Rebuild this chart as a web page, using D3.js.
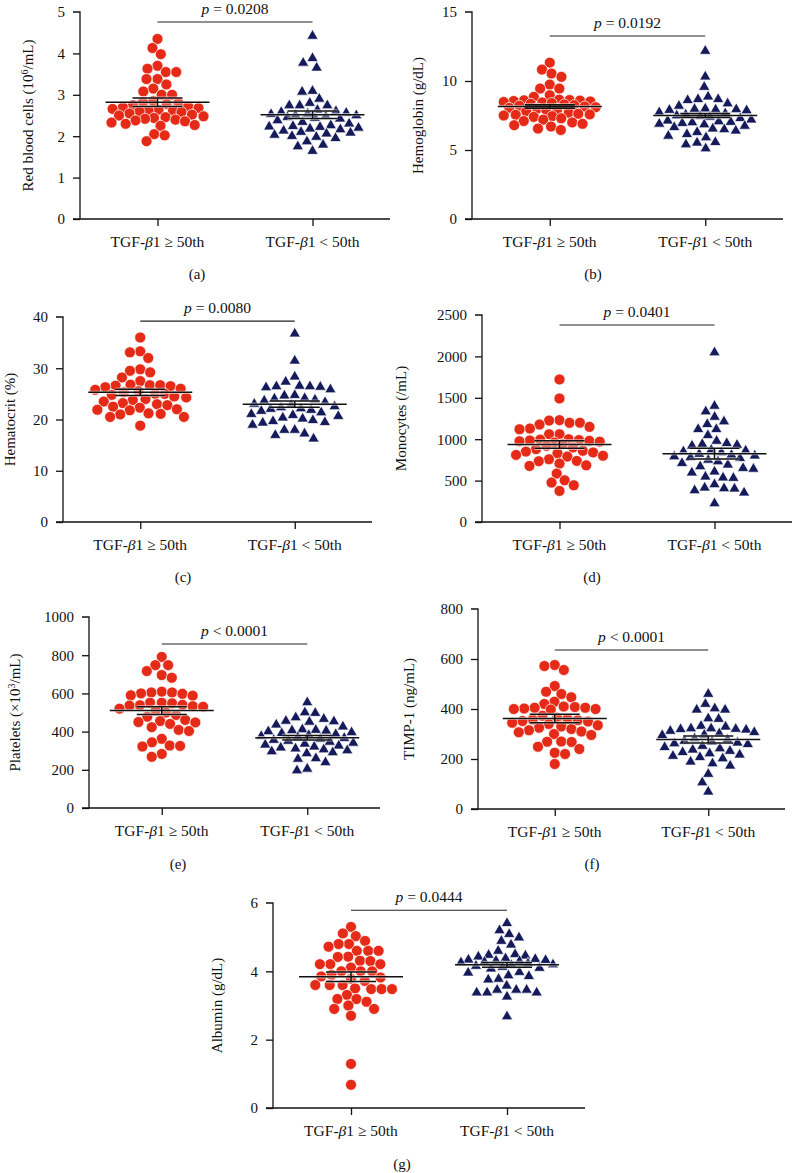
<!DOCTYPE html>
<html><head><meta charset="utf-8">
<script src="https://cdn.jsdelivr.net/npm/d3@7"></script>
<style>html,body{margin:0;padding:0;background:#fff}svg{display:block}</style>
</head><body>
<script>
// ---------- DATA ----------
const categories = ["TGF-β1 ≥ 50th", "TGF-β1 < 50th"];
const rbcHigh = [4.35,4.13,3.98,3.70,3.63,3.55,3.55,3.38,3.38,3.25,3.15,3.08,3.00,3.00,2.85,2.82,2.80,2.78,2.75,2.72,2.70,2.68,2.66,2.64,2.62,2.62,2.60,2.58,2.55,2.52,2.50,2.48,2.46,2.44,2.42,2.40,2.38,2.36,2.33,2.30,2.27,2.25,2.05,2.02,1.88];
const rbcLow = [4.44,3.90,3.79,3.67,3.11,3.09,2.92,2.82,2.76,2.76,2.76,2.65,2.62,2.60,2.58,2.56,2.55,2.53,2.52,2.50,2.48,2.46,2.44,2.40,2.36,2.32,2.28,2.26,2.25,2.24,2.22,2.20,2.18,2.15,2.12,2.10,2.08,2.05,2.02,2.00,1.97,1.89,1.81,1.77,1.66];
const hgbHigh = [11.33,10.83,10.54,10.30,9.74,9.45,9.45,8.97,8.85,8.65,8.62,8.60,8.58,8.55,8.52,8.48,8.45,8.40,8.35,8.30,8.25,8.20,8.15,8.10,8.05,8.00,7.95,7.90,7.80,7.70,7.62,7.58,7.55,7.50,7.45,7.40,7.30,7.20,7.10,7.00,6.90,6.80,6.70,6.55,6.45];
const hgbLow = [12.23,10.37,9.62,8.92,8.73,8.73,8.66,8.42,8.25,8.05,8.02,8.00,7.98,7.95,7.92,7.78,7.70,7.62,7.55,7.50,7.45,7.35,7.25,7.18,7.12,7.08,7.05,7.00,6.95,6.90,6.80,6.70,6.60,6.55,6.45,6.35,6.20,6.08,5.96,5.62,5.58,5.45,5.16];
const hctHigh = [36.0,33.3,33.1,32.0,29.8,29.5,29.2,28.2,27.5,26.8,26.7,26.7,26.6,26.5,26.3,26.0,25.8,25.5,25.3,25.0,25.0,24.8,24.5,24.3,24.0,23.8,23.5,23.2,23.0,22.8,22.5,22.3,22.0,21.9,21.8,21.2,21.1,21.0,20.5,20.5,18.8];
const hctLow = [36.9,31.6,28.5,27.5,26.7,26.6,26.6,26.5,26.4,26.0,24.9,24.8,24.3,24.2,24.0,23.8,23.5,23.2,23.0,22.7,22.5,22.3,22.2,22.0,21.8,21.5,21.2,21.0,20.8,20.5,20.3,20.0,19.8,19.6,19.5,19.1,18.1,18.1,17.4,17.1,16.4];
const monoHigh = [1722,1492,1230,1225,1198,1198,1177,1149,1129,1120,1060,1060,1000,995,990,985,980,975,970,960,940,920,900,880,860,850,840,830,810,800,790,758,738,734,706,685,677,585,504,476,444,375];
const monoLow = [2056,1411,1343,1278,1222,1190,1129,1129,1056,988,960,950,940,930,880,870,860,850,830,820,810,800,790,780,760,740,720,700,680,660,650,617,605,556,545,540,464,423,415,411,391,363,234];
const pltHigh = [791,748,748,717,696,682,609,605,605,600,598,590,588,551,551,548,540,538,536,533,530,520,510,500,487,478,461,455,450,448,440,423,409,403,362,344,327,325,322,283,268];
const pltLow = [557,504,501,478,470,460,457,455,440,430,415,412,410,408,405,400,395,390,385,380,375,370,365,360,355,350,345,340,335,330,325,320,315,310,305,300,295,290,264,261,243,209,200];
const timpHigh = [576,572,556,492,469,460,447,429,420,410,408,405,405,402,400,400,398,373,365,360,358,355,352,350,345,340,335,330,325,320,315,310,307,300,296,270,269,268,249,240,225,220,180];
const timpLow = [463,423,405,400,400,365,363,335,332,325,325,323,322,320,315,310,305,300,298,285,280,275,272,268,265,262,255,250,245,240,235,230,225,220,215,210,205,192,185,176,143,109,72];
const albHigh = [5.30,5.11,5.03,4.89,4.80,4.80,4.72,4.60,4.60,4.60,4.43,4.42,4.31,4.30,4.21,4.21,4.21,4.11,4.00,4.00,4.00,3.90,3.85,3.82,3.78,3.72,3.60,3.60,3.60,3.50,3.48,3.48,3.48,3.31,3.19,3.19,3.11,3.00,2.90,2.90,2.70,1.29,0.68];
const albLow = [5.43,5.22,5.11,5.01,4.91,4.80,4.62,4.52,4.50,4.48,4.45,4.40,4.38,4.36,4.35,4.33,4.32,4.30,4.28,4.25,4.22,4.20,4.18,4.15,4.12,4.10,4.00,3.98,3.90,3.88,3.80,3.78,3.60,3.48,3.48,3.48,3.40,3.40,3.40,3.28,2.70];
const meanHigh = [2.82, 8.15, 25.3, 935, 510, 362, 3.84];
const semHigh  = [0.10, 0.12, 0.6, 45, 20, 17, 0.14];
const meanLow  = [2.52, 7.50, 23.0, 825, 368, 278, 4.19];
const semLow   = [0.09, 0.15, 0.6, 65, 12, 14, 0.07];
const pTexts = ["= 0.0208", "= 0.0192", "= 0.0080", "= 0.0401", "< 0.0001", "< 0.0001", "= 0.0444"];
const yTickSets = [[0,1,2,3,4,5],[0,5,10,15],[0,10,20,30,40],[0,500,1000,1500,2000,2500],[0,200,400,600,800,1000],[0,200,400,600,800],[0,2,4,6]];
const yTitles = [["Red blood cells (10","6","/mL)"],["Hemoglobin (g/dL)"],["Hematocrit (%)"],["Monocytes (/mL)"],["Platelets (×10","3","/mL)"],["TIMP-1 (ng/mL)"],["Albumin (g/dL)"]];
const captions = ["(a)","(b)","(c)","(d)","(e)","(f)","(g)"];
const groupsHigh = [rbcHigh,hgbHigh,hctHigh,monoHigh,pltHigh,timpHigh,albHigh];
const groupsLow = [rbcLow,hgbLow,hctLow,monoLow,pltLow,timpLow,albLow];
const pLineAt = [4.76, 13.26, 39.2, 2379, 859, 636, 5.79];

// ---------- LAYOUT ----------
const layout = [
  {x0:80,  x1:390, yTop:12,  y0:219,  labX:28,  capX:197, capY:279},
  {x0:472, x1:783, yTop:12,  y0:219,  labX:418, capX:593, capY:279},
  {x0:63,  x1:372, yTop:317, y0:522,  labX:10,  capX:183, capY:582},
  {x0:482, x1:792, yTop:315, y0:522,  labX:401, capX:592, capY:582},
  {x0:89,  x1:380, yTop:617, y0:808,  labX:15,  capX:178, capY:869},
  {x0:478, x1:785, yTop:609, y0:809,  labX:409, capX:592, capY:869},
  {x0:273, x1:585, yTop:903, y0:1108, labX:217, capX:402, capY:1169}
];
const RED = "#e52b17", NAVY = "#141a5a";
const FONT = "'Liberation Serif','DejaVu Serif',serif";
const HALF = 46;   // max horizontal half-spread of a swarm

const svg = d3.select("body").append("svg").attr("width",792).attr("height",1173)
  .style("font-family",FONT);
svg.append("rect").attr("width",792).attr("height",1173).attr("fill","#fff");

function swarm(vals, y, cx, d) {
  const pts = vals.map(v => ({v, y: y(v)})).sort((a,b) => a.y - b.y);
  const placed = [];
  for (const p of pts) {
    const near = placed.filter(q => Math.abs(q.y - p.y) < d);
    const cands = [0];
    near.forEach(q => { const dx = Math.sqrt(d*d - (q.y-p.y)**2); cands.push(q.dx + dx, q.dx - dx); });
    const ok = cands.filter(c => Math.abs(c) <= HALF &&
      near.every(q => (q.dx-c)**2 + (q.y-p.y)**2 >= d*d - 1e-6))
      .sort((a,b) => Math.abs(a) - Math.abs(b) || a - b);
    if (ok.length) p.dx = ok[0];
    else {
      let best = 0, bestD = -1;
      for (let c = -HALF; c <= HALF; c += 0.5) {
        const md = d3.min(near, q => Math.hypot(q.dx - c, q.y - p.y));
        if (md > bestD + 1e-6 || (Math.abs(md - bestD) < 1e-6 && Math.abs(c) < Math.abs(best))) { bestD = md; best = c; }
      }
      p.dx = best;
    }
    placed.push(p);
  }
  return placed.map(p => ({v:p.v, y:p.y, x: cx + p.dx}));
}

function catLabel(sel, s) {
  const parts = s.split("β");
  sel.append("tspan").text(parts[0]);
  sel.append("tspan").attr("font-style","italic").text("β");
  sel.append("tspan").text(parts[1]);
}

layout.forEach((L, i) => {
  const g = svg.append("g");
  const ticks = yTickSets[i];
  const ymax = ticks[ticks.length-1];
  const y = d3.scaleLinear().domain([0, ymax]).range([L.y0, L.yTop]);
  const x = d3.scalePoint().domain(categories).range([L.x0, L.x1]).padding(0.5);

  const ya = g.append("g").attr("transform",`translate(${L.x0},0)`)
    .call(d3.axisLeft(y).tickValues(ticks).tickSize(7).tickPadding(8).tickFormat(d3.format("d")));
  ya.select(".domain").attr("d", `M-7,${L.yTop}H0V${L.y0}`).attr("stroke","#111").attr("stroke-width",1.3);
  ya.selectAll(".tick line").attr("stroke","#111").attr("stroke-width",1.3);
  ya.selectAll(".tick text").attr("font-size",15).attr("font-family",FONT).attr("fill","#111");
  ya.selectAll(".tick").filter(d => d === ymax).select("line").remove();

  const xa = g.append("g").attr("transform",`translate(0,${L.y0})`)
    .call(d3.axisBottom(x).tickSize(7).tickPadding(12).tickFormat(""));
  xa.select(".domain").attr("d", `M${L.x0 - 7},0H${L.x1}`).attr("stroke","#111").attr("stroke-width",1.3);
  xa.selectAll(".tick line").attr("stroke","#111").attr("stroke-width",1.3);
  categories.forEach(c => {
    const t = g.append("text").attr("x", x(c)).attr("y", L.y0 + 28)
      .attr("text-anchor","middle").attr("font-size",15.5).attr("fill","#111");
    catLabel(t, c);
  });

  const hi = swarm(groupsHigh[i], y, x(categories[0]), 10.4);
  g.append("g").selectAll("circle").data(hi).join("circle")
    .attr("cx", d => d.x).attr("cy", d => d.y).attr("r", 5.5)
    .attr("fill", RED).attr("stroke","#fff").attr("stroke-width",0.7);
  const lo = swarm(groupsLow[i], y, x(categories[1]), 10.4);
  const tri = d3.symbol().type(d3.symbolTriangle).size(55);
  g.append("g").selectAll("path").data(lo).join("path")
    .attr("d", tri).attr("transform", d => `translate(${d.x},${d.y + 0.8})`)
    .attr("fill", NAVY).attr("stroke","#fff").attr("stroke-width",0.7);

  [[meanHigh[i], semHigh[i], x(categories[0])], [meanLow[i], semLow[i], x(categories[1])]].forEach(([m, s, cx]) => {
    const path = `M${cx-52},${y(m)}H${cx+52}M${cx-25},${y(m+s)}H${cx+25}M${cx-25},${y(m-s)}H${cx+25}M${cx},${y(m+s)}V${y(m-s)}`;
    g.append("path").attr("d", path).attr("fill","none").attr("stroke","#fff").attr("stroke-width",3.2).attr("opacity",0.6);
    g.append("path").attr("d", path).attr("fill","none").attr("stroke","#111").attr("stroke-width",1.5);
  });

  const py = y(pLineAt[i]);
  g.append("line").attr("x1", x(categories[0])).attr("x2", x(categories[1]))
    .attr("y1", py).attr("y2", py).attr("stroke","#222").attr("stroke-width",1.1);
  const pt = g.append("text").attr("x", (x(categories[0]) + x(categories[1]))/2).attr("y", py - 8)
    .attr("text-anchor","middle").attr("font-size",15.5).attr("fill","#111");
  pt.append("tspan").attr("font-style","italic").text("p");
  pt.append("tspan").text(" " + pTexts[i]);

  const yt = g.append("text").attr("transform", `translate(${L.labX},${(L.y0 + L.yTop)/2}) rotate(-90)`)
    .attr("text-anchor","middle").attr("dy","0.35em").attr("font-size",15).attr("fill","#111");
  const parts = yTitles[i];
  yt.append("tspan").text(parts[0]);
  if (parts.length > 1) {
    yt.append("tspan").attr("font-size",10).attr("dy",-5).text(parts[1]);
    yt.append("tspan").attr("dy",5).text(parts[2]);
  }

  svg.append("text").attr("x", L.capX).attr("y", L.capY).attr("text-anchor","middle")
    .attr("font-size",15).attr("fill","#111").text(captions[i]);
});
</script>
</body></html>
